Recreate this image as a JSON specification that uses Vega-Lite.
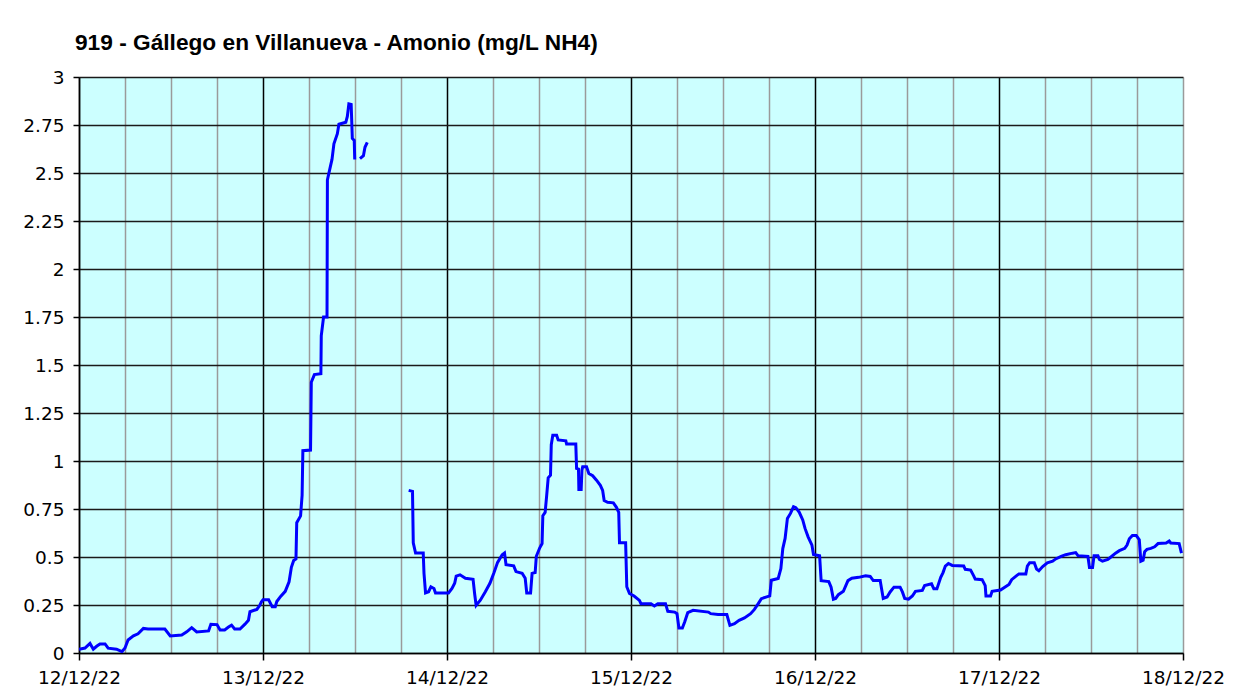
{
  "$schema": "https://vega.github.io/schema/vega-lite/v6.json",
  "width": 1104,
  "height": 576,
  "autosize": {"type": "none"},
  "padding": {"left": 79, "top": 77, "right": 73, "bottom": 42},
  "background": "white",
  "title": {
    "text": "919 - Gállego en Villanueva - Amonio (mg/L NH4)",
    "anchor": "start",
    "frame": "group",
    "dx": -4,
    "offset": 13,
    "font": "Liberation Sans",
    "fontSize": 22.7,
    "fontWeight": "bold",
    "color": "black"
  },
  "config": {
    "view": {"fill": "#CCFFFF", "stroke": null},
    "axis": {
      "labelFont": "DejaVu Sans",
      "labelFontSize": 18.5,
      "labelColor": "black",
      "domainColor": "black",
      "domainWidth": 1.5,
      "tickColor": "black",
      "tickWidth": 1.5,
      "gridWidth": 1.5,
      "title": null
    }
  },
  "data": {
    "values": [
      {"t": "2022-12-12T00:00Z", "v": 0.02, "s": "a"},
      {"t": "2022-12-12T00:47Z", "v": 0.026, "s": "a"},
      {"t": "2022-12-12T01:26Z", "v": 0.05, "s": "a"},
      {"t": "2022-12-12T01:52Z", "v": 0.02, "s": "a"},
      {"t": "2022-12-12T02:18Z", "v": 0.035, "s": "a"},
      {"t": "2022-12-12T02:44Z", "v": 0.047, "s": "a"},
      {"t": "2022-12-12T03:24Z", "v": 0.047, "s": "a"},
      {"t": "2022-12-12T03:48Z", "v": 0.025, "s": "a"},
      {"t": "2022-12-12T04:54Z", "v": 0.02, "s": "a"},
      {"t": "2022-12-12T05:36Z", "v": 0.007, "s": "a"},
      {"t": "2022-12-12T06:00Z", "v": 0.026, "s": "a"},
      {"t": "2022-12-12T06:24Z", "v": 0.068, "s": "a"},
      {"t": "2022-12-12T07:06Z", "v": 0.089, "s": "a"},
      {"t": "2022-12-12T07:42Z", "v": 0.1, "s": "a"},
      {"t": "2022-12-12T08:24Z", "v": 0.128, "s": "a"},
      {"t": "2022-12-12T09:00Z", "v": 0.125, "s": "a"},
      {"t": "2022-12-12T11:12Z", "v": 0.125, "s": "a"},
      {"t": "2022-12-12T11:54Z", "v": 0.089, "s": "a"},
      {"t": "2022-12-12T13:24Z", "v": 0.094, "s": "a"},
      {"t": "2022-12-12T14:03Z", "v": 0.11, "s": "a"},
      {"t": "2022-12-12T14:42Z", "v": 0.132, "s": "a"},
      {"t": "2022-12-12T15:21Z", "v": 0.11, "s": "a"},
      {"t": "2022-12-12T16:54Z", "v": 0.115, "s": "a"},
      {"t": "2022-12-12T17:12Z", "v": 0.15, "s": "a"},
      {"t": "2022-12-12T18:00Z", "v": 0.148, "s": "a"},
      {"t": "2022-12-12T18:24Z", "v": 0.12, "s": "a"},
      {"t": "2022-12-12T19:00Z", "v": 0.12, "s": "a"},
      {"t": "2022-12-12T19:30Z", "v": 0.135, "s": "a"},
      {"t": "2022-12-12T19:54Z", "v": 0.145, "s": "a"},
      {"t": "2022-12-12T20:18Z", "v": 0.125, "s": "a"},
      {"t": "2022-12-12T21:00Z", "v": 0.125, "s": "a"},
      {"t": "2022-12-12T21:39Z", "v": 0.15, "s": "a"},
      {"t": "2022-12-12T22:06Z", "v": 0.17, "s": "a"},
      {"t": "2022-12-12T22:18Z", "v": 0.215, "s": "a"},
      {"t": "2022-12-12T23:12Z", "v": 0.227, "s": "a"},
      {"t": "2022-12-12T23:36Z", "v": 0.25, "s": "a"},
      {"t": "2022-12-12T23:48Z", "v": 0.267, "s": "a"},
      {"t": "2022-12-13T00:00Z", "v": 0.277, "s": "a"},
      {"t": "2022-12-13T00:44Z", "v": 0.277, "s": "a"},
      {"t": "2022-12-13T01:12Z", "v": 0.241, "s": "a"},
      {"t": "2022-12-13T01:36Z", "v": 0.241, "s": "a"},
      {"t": "2022-12-13T01:48Z", "v": 0.268, "s": "a"},
      {"t": "2022-12-13T02:18Z", "v": 0.295, "s": "a"},
      {"t": "2022-12-13T02:54Z", "v": 0.321, "s": "a"},
      {"t": "2022-12-13T03:24Z", "v": 0.371, "s": "a"},
      {"t": "2022-12-13T03:42Z", "v": 0.446, "s": "a"},
      {"t": "2022-12-13T04:00Z", "v": 0.482, "s": "a"},
      {"t": "2022-12-13T04:18Z", "v": 0.49, "s": "a"},
      {"t": "2022-12-13T04:24Z", "v": 0.679, "s": "a"},
      {"t": "2022-12-13T04:54Z", "v": 0.714, "s": "a"},
      {"t": "2022-12-13T05:06Z", "v": 0.821, "s": "a"},
      {"t": "2022-12-13T05:12Z", "v": 1.054, "s": "a"},
      {"t": "2022-12-13T06:12Z", "v": 1.057, "s": "a"},
      {"t": "2022-12-13T06:18Z", "v": 1.41, "s": "a"},
      {"t": "2022-12-13T06:42Z", "v": 1.45, "s": "a"},
      {"t": "2022-12-13T07:33Z", "v": 1.455, "s": "a"},
      {"t": "2022-12-13T07:36Z", "v": 1.652, "s": "a"},
      {"t": "2022-12-13T07:54Z", "v": 1.75, "s": "a"},
      {"t": "2022-12-13T08:21Z", "v": 1.75, "s": "a"},
      {"t": "2022-12-13T08:24Z", "v": 2.464, "s": "a"},
      {"t": "2022-12-13T08:48Z", "v": 2.536, "s": "a"},
      {"t": "2022-12-13T09:00Z", "v": 2.571, "s": "a"},
      {"t": "2022-12-13T09:15Z", "v": 2.652, "s": "a"},
      {"t": "2022-12-13T09:42Z", "v": 2.705, "s": "a"},
      {"t": "2022-12-13T09:54Z", "v": 2.754, "s": "a"},
      {"t": "2022-12-13T10:48Z", "v": 2.764, "s": "a"},
      {"t": "2022-12-13T11:00Z", "v": 2.795, "s": "a"},
      {"t": "2022-12-13T11:12Z", "v": 2.86, "s": "a"},
      {"t": "2022-12-13T11:30Z", "v": 2.857, "s": "a"},
      {"t": "2022-12-13T11:39Z", "v": 2.68, "s": "a"},
      {"t": "2022-12-13T11:54Z", "v": 2.67, "s": "a"},
      {"t": "2022-12-13T11:58Z", "v": 2.57, "s": "a"},
      {"t": "2022-12-13T12:39Z", "v": 2.575, "s": "b"},
      {"t": "2022-12-13T13:06Z", "v": 2.59, "s": "b"},
      {"t": "2022-12-13T13:18Z", "v": 2.634, "s": "b"},
      {"t": "2022-12-13T13:36Z", "v": 2.66, "s": "b"},
      {"t": "2022-12-13T19:00Z", "v": 0.847, "s": "c"},
      {"t": "2022-12-13T19:30Z", "v": 0.842, "s": "c"},
      {"t": "2022-12-13T19:36Z", "v": 0.574, "s": "c"},
      {"t": "2022-12-13T19:54Z", "v": 0.521, "s": "c"},
      {"t": "2022-12-13T20:54Z", "v": 0.521, "s": "c"},
      {"t": "2022-12-13T21:00Z", "v": 0.415, "s": "c"},
      {"t": "2022-12-13T21:12Z", "v": 0.313, "s": "c"},
      {"t": "2022-12-13T21:36Z", "v": 0.319, "s": "c"},
      {"t": "2022-12-13T21:54Z", "v": 0.345, "s": "c"},
      {"t": "2022-12-13T22:18Z", "v": 0.336, "s": "c"},
      {"t": "2022-12-13T22:30Z", "v": 0.313, "s": "c"},
      {"t": "2022-12-14T00:12Z", "v": 0.313, "s": "c"},
      {"t": "2022-12-14T00:39Z", "v": 0.336, "s": "c"},
      {"t": "2022-12-14T01:00Z", "v": 0.363, "s": "c"},
      {"t": "2022-12-14T01:12Z", "v": 0.4, "s": "c"},
      {"t": "2022-12-14T01:42Z", "v": 0.407, "s": "c"},
      {"t": "2022-12-14T02:24Z", "v": 0.389, "s": "c"},
      {"t": "2022-12-14T03:24Z", "v": 0.384, "s": "c"},
      {"t": "2022-12-14T03:36Z", "v": 0.31, "s": "c"},
      {"t": "2022-12-14T03:48Z", "v": 0.248, "s": "c"},
      {"t": "2022-12-14T04:21Z", "v": 0.275, "s": "c"},
      {"t": "2022-12-14T05:00Z", "v": 0.319, "s": "c"},
      {"t": "2022-12-14T05:36Z", "v": 0.363, "s": "c"},
      {"t": "2022-12-14T06:06Z", "v": 0.415, "s": "c"},
      {"t": "2022-12-14T06:36Z", "v": 0.472, "s": "c"},
      {"t": "2022-12-14T07:12Z", "v": 0.512, "s": "c"},
      {"t": "2022-12-14T07:30Z", "v": 0.521, "s": "c"},
      {"t": "2022-12-14T07:42Z", "v": 0.46, "s": "c"},
      {"t": "2022-12-14T08:42Z", "v": 0.454, "s": "c"},
      {"t": "2022-12-14T09:00Z", "v": 0.424, "s": "c"},
      {"t": "2022-12-14T09:48Z", "v": 0.415, "s": "c"},
      {"t": "2022-12-14T10:12Z", "v": 0.389, "s": "c"},
      {"t": "2022-12-14T10:24Z", "v": 0.313, "s": "c"},
      {"t": "2022-12-14T10:54Z", "v": 0.313, "s": "c"},
      {"t": "2022-12-14T11:06Z", "v": 0.415, "s": "c"},
      {"t": "2022-12-14T11:30Z", "v": 0.419, "s": "c"},
      {"t": "2022-12-14T11:39Z", "v": 0.504, "s": "c"},
      {"t": "2022-12-14T12:06Z", "v": 0.548, "s": "c"},
      {"t": "2022-12-14T12:24Z", "v": 0.57, "s": "c"},
      {"t": "2022-12-14T12:30Z", "v": 0.715, "s": "c"},
      {"t": "2022-12-14T12:48Z", "v": 0.732, "s": "c"},
      {"t": "2022-12-14T13:00Z", "v": 0.82, "s": "c"},
      {"t": "2022-12-14T13:12Z", "v": 0.912, "s": "c"},
      {"t": "2022-12-14T13:30Z", "v": 0.926, "s": "c"},
      {"t": "2022-12-14T13:36Z", "v": 1.085, "s": "c"},
      {"t": "2022-12-14T13:48Z", "v": 1.134, "s": "c"},
      {"t": "2022-12-14T14:18Z", "v": 1.134, "s": "c"},
      {"t": "2022-12-14T14:30Z", "v": 1.11, "s": "c"},
      {"t": "2022-12-14T15:30Z", "v": 1.105, "s": "c"},
      {"t": "2022-12-14T15:36Z", "v": 1.088, "s": "c"},
      {"t": "2022-12-14T16:48Z", "v": 1.088, "s": "c"},
      {"t": "2022-12-14T16:54Z", "v": 0.961, "s": "c"},
      {"t": "2022-12-14T17:09Z", "v": 0.958, "s": "c"},
      {"t": "2022-12-14T17:12Z", "v": 0.852, "s": "c"},
      {"t": "2022-12-14T17:30Z", "v": 0.852, "s": "c"},
      {"t": "2022-12-14T17:36Z", "v": 0.952, "s": "c"},
      {"t": "2022-12-14T17:42Z", "v": 0.97, "s": "c"},
      {"t": "2022-12-14T18:12Z", "v": 0.97, "s": "c"},
      {"t": "2022-12-14T18:30Z", "v": 0.935, "s": "c"},
      {"t": "2022-12-14T19:00Z", "v": 0.923, "s": "c"},
      {"t": "2022-12-14T19:30Z", "v": 0.9, "s": "c"},
      {"t": "2022-12-14T20:00Z", "v": 0.873, "s": "c"},
      {"t": "2022-12-14T20:18Z", "v": 0.847, "s": "c"},
      {"t": "2022-12-14T20:30Z", "v": 0.794, "s": "c"},
      {"t": "2022-12-14T20:57Z", "v": 0.785, "s": "c"},
      {"t": "2022-12-14T21:42Z", "v": 0.782, "s": "c"},
      {"t": "2022-12-14T22:06Z", "v": 0.759, "s": "c"},
      {"t": "2022-12-14T22:24Z", "v": 0.732, "s": "c"},
      {"t": "2022-12-14T22:30Z", "v": 0.574, "s": "c"},
      {"t": "2022-12-14T23:18Z", "v": 0.574, "s": "c"},
      {"t": "2022-12-14T23:27Z", "v": 0.345, "s": "c"},
      {"t": "2022-12-14T23:48Z", "v": 0.31, "s": "c"},
      {"t": "2022-12-15T00:24Z", "v": 0.297, "s": "c"},
      {"t": "2022-12-15T01:06Z", "v": 0.274, "s": "c"},
      {"t": "2022-12-15T01:18Z", "v": 0.257, "s": "c"},
      {"t": "2022-12-15T02:36Z", "v": 0.257, "s": "c"},
      {"t": "2022-12-15T03:03Z", "v": 0.245, "s": "c"},
      {"t": "2022-12-15T03:30Z", "v": 0.257, "s": "c"},
      {"t": "2022-12-15T04:30Z", "v": 0.257, "s": "c"},
      {"t": "2022-12-15T04:48Z", "v": 0.217, "s": "c"},
      {"t": "2022-12-15T05:42Z", "v": 0.213, "s": "c"},
      {"t": "2022-12-15T06:00Z", "v": 0.205, "s": "c"},
      {"t": "2022-12-15T06:15Z", "v": 0.13, "s": "c"},
      {"t": "2022-12-15T06:42Z", "v": 0.13, "s": "c"},
      {"t": "2022-12-15T07:00Z", "v": 0.161, "s": "c"},
      {"t": "2022-12-15T07:24Z", "v": 0.21, "s": "c"},
      {"t": "2022-12-15T08:06Z", "v": 0.222, "s": "c"},
      {"t": "2022-12-15T10:06Z", "v": 0.213, "s": "c"},
      {"t": "2022-12-15T10:24Z", "v": 0.205, "s": "c"},
      {"t": "2022-12-15T11:21Z", "v": 0.2, "s": "c"},
      {"t": "2022-12-15T12:30Z", "v": 0.2, "s": "c"},
      {"t": "2022-12-15T12:54Z", "v": 0.144, "s": "c"},
      {"t": "2022-12-15T13:30Z", "v": 0.153, "s": "c"},
      {"t": "2022-12-15T14:06Z", "v": 0.17, "s": "c"},
      {"t": "2022-12-15T14:48Z", "v": 0.183, "s": "c"},
      {"t": "2022-12-15T15:36Z", "v": 0.205, "s": "c"},
      {"t": "2022-12-15T16:06Z", "v": 0.227, "s": "c"},
      {"t": "2022-12-15T16:36Z", "v": 0.257, "s": "c"},
      {"t": "2022-12-15T17:00Z", "v": 0.283, "s": "c"},
      {"t": "2022-12-15T17:42Z", "v": 0.292, "s": "c"},
      {"t": "2022-12-15T18:06Z", "v": 0.297, "s": "c"},
      {"t": "2022-12-15T18:18Z", "v": 0.379, "s": "c"},
      {"t": "2022-12-15T19:12Z", "v": 0.388, "s": "c"},
      {"t": "2022-12-15T19:33Z", "v": 0.44, "s": "c"},
      {"t": "2022-12-15T19:48Z", "v": 0.544, "s": "c"},
      {"t": "2022-12-15T20:06Z", "v": 0.597, "s": "c"},
      {"t": "2022-12-15T20:24Z", "v": 0.701, "s": "c"},
      {"t": "2022-12-15T20:48Z", "v": 0.727, "s": "c"},
      {"t": "2022-12-15T21:12Z", "v": 0.762, "s": "c"},
      {"t": "2022-12-15T21:30Z", "v": 0.757, "s": "c"},
      {"t": "2022-12-15T21:57Z", "v": 0.733, "s": "c"},
      {"t": "2022-12-15T22:24Z", "v": 0.693, "s": "c"},
      {"t": "2022-12-15T22:42Z", "v": 0.649, "s": "c"},
      {"t": "2022-12-15T23:06Z", "v": 0.605, "s": "c"},
      {"t": "2022-12-15T23:36Z", "v": 0.562, "s": "c"},
      {"t": "2022-12-15T23:48Z", "v": 0.513, "s": "c"},
      {"t": "2022-12-16T00:36Z", "v": 0.507, "s": "c"},
      {"t": "2022-12-16T00:48Z", "v": 0.377, "s": "c"},
      {"t": "2022-12-16T01:48Z", "v": 0.372, "s": "c"},
      {"t": "2022-12-16T02:06Z", "v": 0.343, "s": "c"},
      {"t": "2022-12-16T02:24Z", "v": 0.28, "s": "c"},
      {"t": "2022-12-16T02:42Z", "v": 0.284, "s": "c"},
      {"t": "2022-12-16T03:03Z", "v": 0.304, "s": "c"},
      {"t": "2022-12-16T03:42Z", "v": 0.321, "s": "c"},
      {"t": "2022-12-16T04:18Z", "v": 0.377, "s": "c"},
      {"t": "2022-12-16T04:48Z", "v": 0.389, "s": "c"},
      {"t": "2022-12-16T05:42Z", "v": 0.394, "s": "c"},
      {"t": "2022-12-16T06:36Z", "v": 0.402, "s": "c"},
      {"t": "2022-12-16T07:12Z", "v": 0.399, "s": "c"},
      {"t": "2022-12-16T07:36Z", "v": 0.377, "s": "c"},
      {"t": "2022-12-16T08:30Z", "v": 0.377, "s": "c"},
      {"t": "2022-12-16T08:54Z", "v": 0.284, "s": "c"},
      {"t": "2022-12-16T09:24Z", "v": 0.292, "s": "c"},
      {"t": "2022-12-16T09:48Z", "v": 0.318, "s": "c"},
      {"t": "2022-12-16T10:18Z", "v": 0.343, "s": "c"},
      {"t": "2022-12-16T11:06Z", "v": 0.343, "s": "c"},
      {"t": "2022-12-16T11:24Z", "v": 0.318, "s": "c"},
      {"t": "2022-12-16T11:42Z", "v": 0.284, "s": "c"},
      {"t": "2022-12-16T12:12Z", "v": 0.28, "s": "c"},
      {"t": "2022-12-16T12:42Z", "v": 0.297, "s": "c"},
      {"t": "2022-12-16T13:06Z", "v": 0.321, "s": "c"},
      {"t": "2022-12-16T14:00Z", "v": 0.326, "s": "c"},
      {"t": "2022-12-16T14:18Z", "v": 0.351, "s": "c"},
      {"t": "2022-12-16T15:12Z", "v": 0.36, "s": "c"},
      {"t": "2022-12-16T15:30Z", "v": 0.334, "s": "c"},
      {"t": "2022-12-16T15:54Z", "v": 0.334, "s": "c"},
      {"t": "2022-12-16T16:24Z", "v": 0.394, "s": "c"},
      {"t": "2022-12-16T16:42Z", "v": 0.419, "s": "c"},
      {"t": "2022-12-16T17:00Z", "v": 0.453, "s": "c"},
      {"t": "2022-12-16T17:24Z", "v": 0.466, "s": "c"},
      {"t": "2022-12-16T17:54Z", "v": 0.456, "s": "c"},
      {"t": "2022-12-16T19:24Z", "v": 0.453, "s": "c"},
      {"t": "2022-12-16T19:36Z", "v": 0.436, "s": "c"},
      {"t": "2022-12-16T20:18Z", "v": 0.432, "s": "c"},
      {"t": "2022-12-16T20:42Z", "v": 0.402, "s": "c"},
      {"t": "2022-12-16T20:54Z", "v": 0.385, "s": "c"},
      {"t": "2022-12-16T21:48Z", "v": 0.382, "s": "c"},
      {"t": "2022-12-16T22:12Z", "v": 0.351, "s": "c"},
      {"t": "2022-12-16T22:18Z", "v": 0.297, "s": "c"},
      {"t": "2022-12-16T22:54Z", "v": 0.297, "s": "c"},
      {"t": "2022-12-16T23:06Z", "v": 0.321, "s": "c"},
      {"t": "2022-12-17T00:12Z", "v": 0.328, "s": "c"},
      {"t": "2022-12-17T00:39Z", "v": 0.34, "s": "c"},
      {"t": "2022-12-17T01:18Z", "v": 0.357, "s": "c"},
      {"t": "2022-12-17T01:39Z", "v": 0.382, "s": "c"},
      {"t": "2022-12-17T02:18Z", "v": 0.403, "s": "c"},
      {"t": "2022-12-17T02:36Z", "v": 0.412, "s": "c"},
      {"t": "2022-12-17T03:30Z", "v": 0.412, "s": "c"},
      {"t": "2022-12-17T03:42Z", "v": 0.453, "s": "c"},
      {"t": "2022-12-17T04:00Z", "v": 0.47, "s": "c"},
      {"t": "2022-12-17T04:36Z", "v": 0.47, "s": "c"},
      {"t": "2022-12-17T04:54Z", "v": 0.437, "s": "c"},
      {"t": "2022-12-17T05:12Z", "v": 0.428, "s": "c"},
      {"t": "2022-12-17T05:42Z", "v": 0.45, "s": "c"},
      {"t": "2022-12-17T06:18Z", "v": 0.47, "s": "c"},
      {"t": "2022-12-17T07:00Z", "v": 0.478, "s": "c"},
      {"t": "2022-12-17T07:24Z", "v": 0.49, "s": "c"},
      {"t": "2022-12-17T08:06Z", "v": 0.503, "s": "c"},
      {"t": "2022-12-17T08:42Z", "v": 0.512, "s": "c"},
      {"t": "2022-12-17T09:36Z", "v": 0.52, "s": "c"},
      {"t": "2022-12-17T10:00Z", "v": 0.523, "s": "c"},
      {"t": "2022-12-17T10:18Z", "v": 0.507, "s": "c"},
      {"t": "2022-12-17T11:36Z", "v": 0.503, "s": "c"},
      {"t": "2022-12-17T11:48Z", "v": 0.445, "s": "c"},
      {"t": "2022-12-17T12:12Z", "v": 0.445, "s": "c"},
      {"t": "2022-12-17T12:24Z", "v": 0.507, "s": "c"},
      {"t": "2022-12-17T12:54Z", "v": 0.507, "s": "c"},
      {"t": "2022-12-17T13:06Z", "v": 0.487, "s": "c"},
      {"t": "2022-12-17T13:30Z", "v": 0.478, "s": "c"},
      {"t": "2022-12-17T14:12Z", "v": 0.487, "s": "c"},
      {"t": "2022-12-17T14:36Z", "v": 0.5, "s": "c"},
      {"t": "2022-12-17T15:12Z", "v": 0.52, "s": "c"},
      {"t": "2022-12-17T15:42Z", "v": 0.533, "s": "c"},
      {"t": "2022-12-17T16:24Z", "v": 0.545, "s": "c"},
      {"t": "2022-12-17T16:42Z", "v": 0.562, "s": "c"},
      {"t": "2022-12-17T17:00Z", "v": 0.595, "s": "c"},
      {"t": "2022-12-17T17:24Z", "v": 0.612, "s": "c"},
      {"t": "2022-12-17T17:54Z", "v": 0.612, "s": "c"},
      {"t": "2022-12-17T18:18Z", "v": 0.59, "s": "c"},
      {"t": "2022-12-17T18:30Z", "v": 0.478, "s": "c"},
      {"t": "2022-12-17T18:48Z", "v": 0.483, "s": "c"},
      {"t": "2022-12-17T19:00Z", "v": 0.528, "s": "c"},
      {"t": "2022-12-17T19:18Z", "v": 0.54, "s": "c"},
      {"t": "2022-12-17T19:48Z", "v": 0.545, "s": "c"},
      {"t": "2022-12-17T20:18Z", "v": 0.553, "s": "c"},
      {"t": "2022-12-17T20:45Z", "v": 0.57, "s": "c"},
      {"t": "2022-12-17T21:48Z", "v": 0.573, "s": "c"},
      {"t": "2022-12-17T22:12Z", "v": 0.583, "s": "c"},
      {"t": "2022-12-17T22:24Z", "v": 0.573, "s": "c"},
      {"t": "2022-12-17T23:30Z", "v": 0.57, "s": "c"},
      {"t": "2022-12-17T23:48Z", "v": 0.52, "s": "c"}
    ]
  },
  "mark": {"type": "line", "color": "#0000FF", "strokeWidth": 3, "strokeJoin": "miter", "clip": true},
  "encoding": {
    "x": {
      "field": "t",
      "type": "temporal",
      "scale": {"type": "utc", "domain": [1670803200000, 1671321600000], "nice": false},
      "axis": {
        "values": [1670803200000, 1670824800000, 1670846400000, 1670868000000, 1670889600000, 1670911200000, 1670932800000, 1670954400000, 1670976000000, 1670997600000, 1671019200000, 1671040800000, 1671062400000, 1671084000000, 1671105600000, 1671127200000, 1671148800000, 1671170400000, 1671192000000, 1671213600000, 1671235200000, 1671256800000, 1671278400000, 1671300000000, 1671321600000],
        "labelExpr": "utchours(datum.value) == 0 ? utcFormat(datum.value, '%d/%m/%y') : ''",
        "labelOverlap": false,
        "labelFlush": false,
        "labelPadding": 8,
        "tickSize": 7,
        "tickOpacity": {"condition": {"test": "utchours(datum.value) == 0", "value": 1}, "value": 0},
        "grid": true,
        "gridColor": {"condition": {"test": "utchours(datum.value) == 0 && datum.value < 1671321600000", "value": "#000000"}, "value": "#9a9a9a"}
      }
    },
    "y": {
      "field": "v",
      "type": "quantitative",
      "scale": {"domain": [0, 3], "nice": false, "zero": true},
      "axis": {
        "values": [0, 0.25, 0.5, 0.75, 1, 1.25, 1.5, 1.75, 2, 2.25, 2.5, 2.75, 3],
        "format": ".2~f",
        "tickSize": 6,
        "labelPadding": 9,
        "grid": true,
        "gridColor": "#1a1a1a"
      }
    },
    "detail": {"field": "s", "type": "nominal"}
  }
}
